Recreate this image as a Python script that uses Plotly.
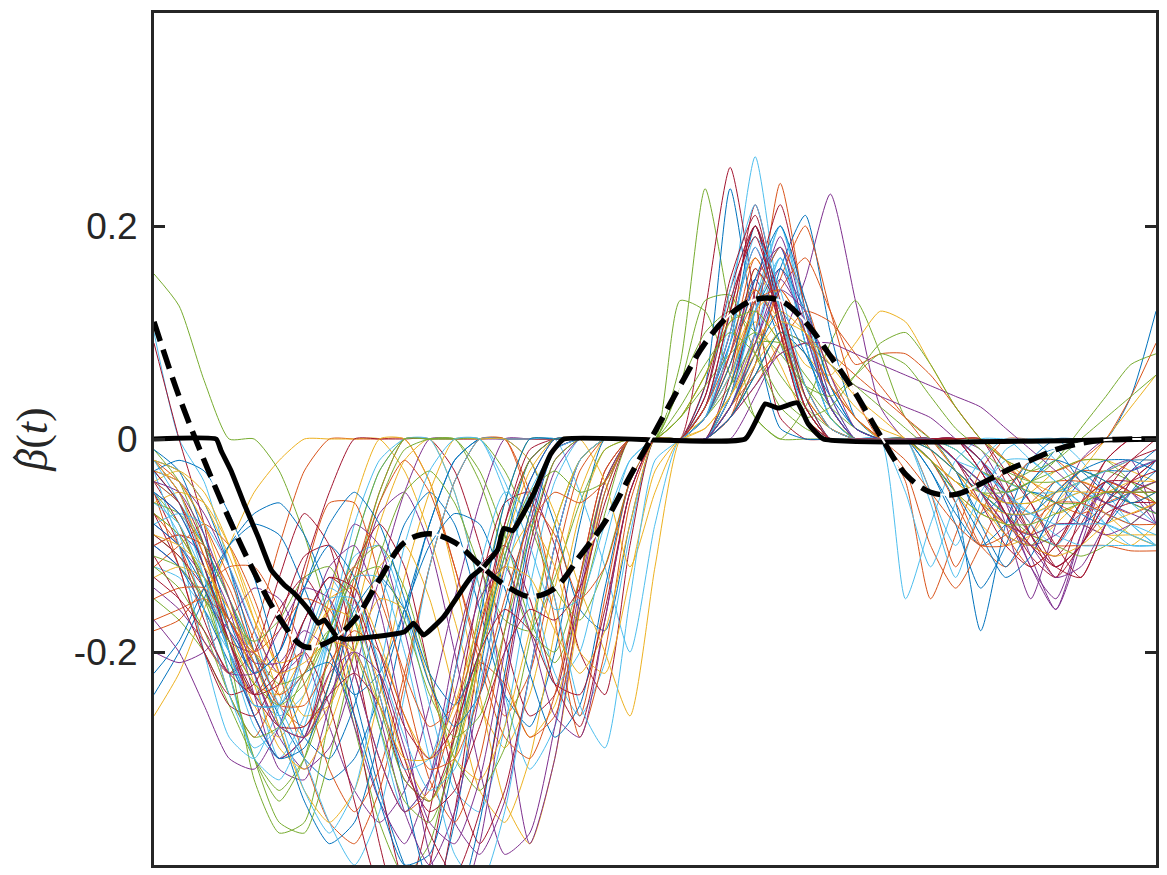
import plotly.graph_objects as go

# common sampling grid of the bootstrap estimates
t_grid = [0.0, 0.025, 0.05, 0.075, 0.1, 0.125, 0.15, 0.175, 0.2, 0.225,
          0.25, 0.275, 0.3, 0.325, 0.35, 0.375, 0.4, 0.425, 0.45, 0.475,
          0.5, 0.525, 0.55, 0.575, 0.6, 0.625, 0.65, 0.675, 0.7, 0.725,
          0.75, 0.775, 0.8, 0.825, 0.85, 0.875, 0.9, 0.925, 0.95, 0.975, 1.0]

# bootstrap estimates (thin coloured lines)
boot_curves_a = [
    [-0.03, -0.06, -0.10, -0.15, -0.21, -0.26, -0.30, -0.32, -0.30, -0.24, -0.16, -0.08, -0.02, 0, 0, 0, 0, 0, 0, 0, 0, 0, 0.03, 0.09, 0.15, 0.09, 0.03, 0, 0, 0, 0, 0, 0, -0.02, -0.05, -0.04, -0.01, 0, 0, 0, 0],
    [-0.05, -0.12, -0.19, -0.22, -0.18, -0.10, -0.03, 0, 0, 0, 0, -0.04, -0.12, -0.20, -0.26, -0.22, -0.12, -0.03, 0, 0, 0, 0, 0, 0.02, 0.10, 0.24, 0.12, 0.03, 0, 0, -0.04, -0.15, -0.09, -0.03, 0, 0, 0, 0, 0, 0, 0],
    [-0.26, -0.22, -0.16, -0.10, -0.05, -0.02, 0, 0, 0, 0, -0.03, -0.09, -0.17, -0.25, -0.29, -0.24, -0.14, -0.05, 0, 0, 0, 0, 0.02, 0.06, 0.11, 0.07, 0.02, 0, 0, 0, 0, 0, -0.02, -0.04, -0.06, -0.05, -0.03, -0.02, -0.02, -0.03, -0.04],
    [-0.08, -0.10, -0.13, -0.17, -0.22, -0.28, -0.31, -0.29, -0.22, -0.13, -0.05, 0, 0, 0, 0, 0, 0, 0, 0, 0, 0, 0, 0, 0, 0.04, 0.09, 0.15, 0.23, 0.13, 0.03, 0, 0, 0, -0.01, -0.05, -0.11, -0.16, -0.09, -0.03, -0.02, -0.08],
    [0.155, 0.125, 0.055, 0, 0, -0.03, -0.09, -0.17, -0.27, -0.36, -0.41, -0.38, -0.28, -0.16, -0.06, 0, 0, 0, 0, 0, 0, 0.07, 0.235, 0.12, 0.02, 0, 0, 0, 0, 0, 0, 0, -0.01, -0.03, -0.04, -0.03, -0.01, 0, 0, 0, 0],
    [0.10, 0, -0.04, -0.12, -0.22, -0.30, -0.28, -0.18, -0.08, -0.02, 0, 0, 0, 0, -0.05, -0.13, -0.22, -0.26, -0.21, -0.09, 0, 0, 0.02, 0.12, 0.265, 0.12, 0.02, 0, 0, 0, -0.15, -0.08, -0.02, 0, 0, 0, 0, -0.02, -0.05, -0.08, -0.10],
    [0.09, 0, -0.08, -0.20, -0.24, -0.20, -0.12, -0.05, 0, 0, 0, 0, -0.03, -0.10, -0.19, -0.26, -0.24, -0.13, -0.03, 0, 0, 0, 0.12, 0.255, 0.13, 0.02, 0, 0, 0, 0, 0, 0, 0, 0, -0.04, -0.09, -0.13, -0.07, -0.02, 0, 0],
    [-0.24, -0.20, -0.15, -0.10, -0.07, -0.06, -0.09, -0.15, -0.24, -0.33, -0.40, -0.44, -0.36, -0.22, -0.10, -0.02, 0, 0, 0, 0, 0, 0, 0.05, 0.235, 0.10, 0.01, 0, 0, 0, 0, 0, -0.02, -0.06, -0.18, -0.08, -0.02, 0, 0, 0, 0.04, 0.12],
    [-0.02, -0.04, -0.08, -0.13, -0.19, -0.25, -0.27, -0.22, -0.13, -0.05, 0, 0, 0, 0, 0, -0.05, -0.15, -0.26, -0.15, -0.04, 0, 0, 0, 0.03, 0.06, 0.08, 0.09, 0.08, 0.06, 0.04, 0.02, 0, -0.03, -0.06, -0.08, -0.09, -0.10, -0.10, -0.10, -0.105, -0.105],
    [-0.04, -0.03, -0.05, -0.10, -0.17, -0.24, -0.28, -0.25, -0.17, -0.08, -0.02, 0, -0.05, -0.14, -0.22, -0.28, -0.25, -0.15, -0.05, 0, 0, 0.02, 0.06, 0.12, 0.17, 0.12, 0.05, 0.01, 0, 0, 0, -0.02, -0.05, -0.08, -0.10, -0.09, -0.06, -0.04, -0.05, -0.06, -0.05],
    [-0.20, -0.21, -0.20, -0.17, -0.14, -0.15, -0.20, -0.27, -0.33, -0.36, -0.33, -0.25, -0.15, -0.06, 0, 0, 0, 0, 0, 0, 0, 0, 0, 0.05, 0.12, 0.19, 0.11, 0.03, 0, 0, 0, 0, 0, -0.02, -0.08, -0.15, -0.08, -0.02, 0, 0, 0],
    [-0.01, -0.04, -0.10, -0.20, -0.32, -0.37, -0.36, -0.26, -0.14, -0.05, 0, 0, 0, -0.03, -0.09, -0.17, -0.21, -0.16, -0.07, 0, 0, 0.13, 0.12, 0.06, 0.02, 0, 0.03, 0.09, 0.13, 0.08, 0.02, 0, -0.02, -0.04, -0.05, -0.04, -0.02, 0.01, 0.04, 0.07, 0.08],
    [-0.12, -0.13, -0.16, -0.20, -0.24, -0.26, -0.24, -0.18, -0.10, -0.03, 0, 0, -0.05, -0.14, -0.24, -0.31, -0.27, -0.16, -0.05, 0, 0, 0, 0, 0.03, 0.09, 0.17, 0.09, 0.02, 0, 0, 0, -0.06, -0.13, -0.06, -0.01, 0, -0.02, -0.05, -0.08, -0.10, -0.10],
    [-0.05, -0.10, -0.17, -0.22, -0.20, -0.13, -0.07, -0.10, -0.20, -0.32, -0.42, -0.45, -0.35, -0.20, -0.08, -0.01, 0, 0, 0, 0, 0, 0, 0.03, 0.10, 0.22, 0.12, 0.03, 0, 0, 0, 0, 0, 0, 0, -0.02, -0.06, -0.10, -0.06, -0.02, 0, 0],
]

boot_curves_b = [
    [-0.03, -0.02, -0.03, -0.07, -0.13, -0.21, -0.28, -0.30, -0.25, -0.16, -0.08, -0.05, -0.08, -0.16, -0.24, -0.27, -0.20, -0.08, 0, 0, 0, 0, 0, 0.02, 0.07, 0.16, 0.21, 0.10, 0.02, 0, 0, 0, -0.02, -0.05, -0.09, -0.10, -0.07, -0.04, -0.03, -0.03, -0.02],
    [-0.12, -0.10, -0.08, -0.10, -0.15, -0.22, -0.30, -0.36, -0.38, -0.33, -0.23, -0.12, -0.04, 0, 0, 0, 0, 0, 0, 0, 0, 0, 0, 0.02, 0.05, 0.09, 0.12, 0.11, 0.08, 0.05, 0.02, -0.01, -0.05, -0.10, -0.12, -0.09, -0.05, -0.03, -0.03, -0.02, -0.02],
    [-0.07, -0.09, -0.13, -0.19, -0.25, -0.28, -0.24, -0.15, -0.06, 0, 0, -0.04, -0.13, -0.24, -0.34, -0.38, -0.30, -0.16, -0.04, 0, 0, 0, 0, 0.05, 0.16, 0.11, 0.03, 0, 0, 0, 0, 0, 0, 0, -0.02, -0.05, -0.07, -0.06, -0.04, -0.05, -0.06],
    [-0.10, -0.09, -0.11, -0.16, -0.24, -0.31, -0.32, -0.25, -0.15, -0.07, -0.05, -0.10, -0.20, -0.31, -0.39, -0.37, -0.27, -0.14, -0.04, 0, 0, 0, 0, 0.04, 0.10, 0.16, 0.10, 0.03, 0, 0, 0, 0, 0, -0.03, -0.07, -0.12, -0.16, -0.10, -0.04, -0.05, -0.08],
    [-0.15, -0.17, -0.20, -0.25, -0.30, -0.33, -0.30, -0.23, -0.14, -0.06, -0.01, 0, 0, -0.04, -0.11, -0.18, -0.20, -0.13, -0.04, 0, 0, 0.05, 0.10, 0.12, 0.10, 0.06, 0.03, 0.01, 0, 0, 0, -0.02, -0.04, -0.05, -0.06, -0.06, -0.05, -0.04, -0.03, -0.04, -0.06],
    [-0.02, -0.05, -0.12, -0.20, -0.27, -0.30, -0.26, -0.18, -0.11, -0.10, -0.16, -0.25, -0.33, -0.35, -0.27, -0.14, -0.04, 0, 0, 0, 0, 0, 0, 0.04, 0.13, 0.20, 0.11, 0.03, 0, 0, 0, 0, 0, -0.02, -0.05, -0.07, -0.06, -0.05, -0.06, -0.08, -0.10],
    [-0.04, -0.08, -0.14, -0.19, -0.20, -0.16, -0.13, -0.17, -0.26, -0.38, -0.46, -0.40, -0.27, -0.14, -0.06, -0.05, -0.10, -0.20, -0.24, -0.10, 0, 0, 0.05, 0.14, 0.20, 0.10, 0.02, 0, 0, 0, 0, 0, -0.02, -0.05, -0.08, -0.10, -0.11, -0.08, -0.04, -0.02, 0],
    [-0.02, -0.03, -0.06, -0.12, -0.20, -0.27, -0.34, -0.38, -0.36, -0.28, -0.17, -0.08, -0.02, 0, 0, -0.02, -0.08, -0.16, -0.18, -0.08, 0, 0, 0, 0.05, 0.13, 0.18, 0.09, 0.02, 0, 0, 0, 0, -0.03, -0.08, -0.12, -0.08, -0.04, -0.07, -0.08, -0.05, -0.02],
    [-0.18, -0.17, -0.14, -0.12, -0.12, -0.16, -0.23, -0.31, -0.35, -0.31, -0.22, -0.12, -0.04, 0, 0, -0.06, -0.17, -0.28, -0.20, -0.06, 0, 0, 0, 0.02, 0.07, 0.15, 0.20, 0.12, 0.04, 0, 0, -0.05, -0.12, -0.07, -0.03, -0.04, -0.06, -0.07, -0.06, -0.05, -0.04],
    [-0.06, -0.05, -0.06, -0.10, -0.16, -0.22, -0.26, -0.25, -0.19, -0.12, -0.10, -0.15, -0.24, -0.33, -0.36, -0.30, -0.18, -0.07, -0.01, 0, 0, 0.02, 0.06, 0.11, 0.14, 0.11, 0.07, 0.06, 0.09, 0.12, 0.11, 0.07, 0.03, 0, -0.02, -0.04, -0.05, -0.03, 0, 0.03, 0.06],
    [-0.10, -0.12, -0.15, -0.18, -0.21, -0.21, -0.18, -0.20, -0.27, -0.34, -0.38, -0.32, -0.20, -0.12, -0.25, -0.38, -0.30, -0.15, -0.04, 0, 0, 0, 0, 0.02, 0.06, 0.10, 0.09, 0.07, 0.05, 0.04, 0.03, 0.02, 0, -0.02, -0.06, -0.12, -0.15, -0.09, -0.04, -0.05, -0.07],
    [-0.09, -0.11, -0.15, -0.22, -0.30, -0.36, -0.37, -0.30, -0.20, -0.11, -0.05, -0.03, -0.06, -0.12, -0.17, -0.18, -0.13, -0.06, -0.01, 0, 0, 0.05, 0.13, 0.135, 0.08, 0.03, 0.01, 0, 0, 0, 0, -0.01, -0.03, -0.05, -0.05, -0.04, -0.03, -0.02, -0.02, -0.04, -0.06],
    [-0.04, -0.06, -0.10, -0.15, -0.20, -0.25, -0.30, -0.36, -0.40, -0.35, -0.24, -0.12, -0.04, 0, 0, 0, 0, -0.05, -0.12, -0.20, -0.08, 0, 0, 0.03, 0.10, 0.17, 0.09, 0.02, 0, 0, 0, -0.05, -0.10, -0.05, -0.02, -0.02, -0.04, -0.06, -0.08, -0.09, -0.10],
    [-0.02, -0.05, -0.10, -0.18, -0.26, -0.30, -0.28, -0.20, -0.12, -0.08, -0.12, -0.22, -0.32, -0.38, -0.33, -0.22, -0.10, -0.02, 0, 0, 0, 0, 0, 0.04, 0.14, 0.22, 0.12, 0.03, 0, 0, 0, 0, 0, -0.02, -0.05, -0.08, -0.12, -0.13, -0.08, -0.04, -0.02],
]

boot_curves_c = [
    [-0.22, -0.19, -0.14, -0.10, -0.08, -0.09, -0.14, -0.20, -0.24, -0.22, -0.16, -0.10, -0.07, -0.08, -0.14, -0.22, -0.28, -0.25, -0.14, -0.04, 0, 0, 0.02, 0.09, 0.20, 0.12, 0.04, 0, 0, 0, 0, 0, -0.03, -0.07, -0.05, -0.02, -0.01, -0.04, -0.06, -0.05, -0.03],
    [-0.07, -0.10, -0.16, -0.24, -0.28, -0.23, -0.13, -0.06, -0.06, -0.13, -0.23, -0.32, -0.36, -0.30, -0.18, -0.07, -0.01, 0, 0, 0, 0, 0, 0.02, 0.06, 0.13, 0.18, 0.13, 0.06, 0.02, 0, -0.03, -0.10, -0.14, -0.10, -0.05, -0.02, -0.02, -0.04, -0.06, -0.07, -0.06],
    [-0.13, -0.12, -0.13, -0.16, -0.21, -0.27, -0.33, -0.36, -0.33, -0.24, -0.13, -0.05, 0, 0, 0, -0.02, -0.07, -0.14, -0.20, -0.26, -0.12, 0, 0.02, 0.07, 0.12, 0.09, 0.04, 0.01, 0, 0, 0, 0, -0.03, -0.06, -0.09, -0.10, -0.08, -0.06, -0.09, -0.10, -0.08],
    [-0.03, -0.04, -0.07, -0.12, -0.18, -0.22, -0.20, -0.14, -0.08, -0.10, -0.18, -0.28, -0.36, -0.39, -0.34, -0.22, -0.10, -0.02, 0, 0, 0, 0, 0.03, 0.10, 0.18, 0.11, 0.03, 0, 0, 0, 0, -0.02, -0.04, -0.06, -0.08, -0.10, -0.09, -0.07, -0.05, -0.05, -0.05],
    [-0.05, -0.08, -0.14, -0.22, -0.30, -0.34, -0.30, -0.20, -0.10, -0.03, 0, 0, 0, 0, -0.03, -0.08, -0.14, -0.17, -0.12, -0.04, 0, 0, 0, 0.02, 0.06, 0.10, 0.09, 0.07, 0.05, 0.03, 0.01, -0.01, -0.03, -0.05, -0.07, -0.09, -0.10, -0.11, -0.10, -0.08, -0.06],
    [-0.03, -0.10, -0.20, -0.28, -0.30, -0.25, -0.17, -0.13, -0.17, -0.27, -0.35, -0.32, -0.22, -0.12, -0.10, -0.16, -0.23, -0.20, -0.10, -0.02, 0, 0, 0.04, 0.14, 0.22, 0.12, 0.03, 0, 0, 0, 0, 0, 0, -0.02, -0.04, -0.05, -0.05, -0.04, -0.03, -0.02, -0.02],
    [-0.07, -0.12, -0.20, -0.25, -0.26, -0.22, -0.20, -0.25, -0.34, -0.42, -0.43, -0.35, -0.22, -0.12, -0.10, -0.15, -0.23, -0.27, -0.17, -0.05, 0, 0, 0.03, 0.12, 0.20, 0.10, 0.02, 0, 0, 0, 0, 0, 0, -0.03, -0.07, -0.11, -0.13, -0.10, -0.07, -0.06, -0.06],
    [-0.10, -0.12, -0.16, -0.21, -0.25, -0.25, -0.22, -0.21, -0.26, -0.34, -0.40, -0.39, -0.30, -0.17, -0.06, 0, 0, 0, 0, 0, 0, 0, 0, 0.04, 0.12, 0.16, 0.12, 0.05, 0.01, 0, 0, -0.03, -0.07, -0.10, -0.08, -0.05, -0.06, -0.08, -0.06, -0.03, -0.01],
    [-0.17, -0.16, -0.15, -0.17, -0.22, -0.27, -0.28, -0.23, -0.14, -0.06, -0.02, -0.05, -0.12, -0.21, -0.28, -0.30, -0.24, -0.13, -0.03, 0, 0, 0, 0, 0.03, 0.08, 0.14, 0.17, 0.12, 0.07, 0.08, 0.08, 0.06, 0.03, 0, -0.02, -0.03, -0.03, -0.02, 0, 0.04, 0.09],
    [-0.02, -0.05, -0.11, -0.18, -0.23, -0.24, -0.20, -0.15, -0.14, -0.19, -0.26, -0.30, -0.28, -0.20, -0.10, -0.03, 0, 0, -0.04, -0.12, -0.05, 0, 0, 0.03, 0.07, 0.10, 0.08, 0.05, 0.02, 0, 0, -0.02, -0.05, -0.07, -0.08, -0.09, -0.08, -0.08, -0.09, -0.09, -0.09],
    [-0.17, -0.20, -0.25, -0.30, -0.31, -0.27, -0.19, -0.12, -0.10, -0.16, -0.27, -0.39, -0.45, -0.38, -0.24, -0.11, -0.03, 0, 0, 0, 0, 0, 0, 0.02, 0.05, 0.08, 0.09, 0.09, 0.08, 0.07, 0.06, 0.05, 0.04, 0.03, 0.01, -0.01, -0.03, -0.05, -0.06, -0.07, -0.08],
    [-0.06, -0.07, -0.10, -0.15, -0.20, -0.23, -0.22, -0.18, -0.12, -0.10, -0.14, -0.22, -0.30, -0.33, -0.29, -0.19, -0.08, -0.02, 0, 0, 0, 0, 0.02, 0.05, 0.09, 0.09, 0.06, 0.03, 0.01, 0, 0, 0, -0.01, -0.03, -0.04, -0.05, -0.06, -0.06, -0.05, -0.05, -0.04],
    [-0.08, -0.07, -0.08, -0.12, -0.18, -0.26, -0.33, -0.37, -0.33, -0.22, -0.10, -0.03, 0, 0, -0.04, -0.10, -0.16, -0.15, -0.08, -0.02, 0, 0, 0, 0.04, 0.12, 0.20, 0.12, 0.04, 0, 0, 0, 0, -0.02, -0.04, -0.06, -0.07, -0.09, -0.10, -0.10, -0.10, -0.10],
    [-0.11, -0.15, -0.20, -0.24, -0.23, -0.17, -0.11, -0.10, -0.15, -0.24, -0.32, -0.34, -0.28, -0.18, -0.08, -0.02, 0, 0, 0, 0, 0, 0, 0, 0.06, 0.16, 0.12, 0.05, 0.01, 0, 0, 0, 0, 0, 0, -0.03, -0.06, -0.10, -0.13, -0.08, -0.04, -0.02],
    [-0.01, -0.03, -0.09, -0.17, -0.22, -0.20, -0.14, -0.10, -0.13, -0.22, -0.33, -0.42, -0.44, -0.36, -0.22, -0.09, -0.01, 0, 0, 0, 0, 0, 0, 0.02, 0.06, 0.10, 0.08, 0.04, 0.01, 0, 0, -0.03, -0.08, -0.14, -0.10, -0.04, -0.02, -0.03, -0.05, -0.06, -0.07],
    [-0.04, -0.06, -0.11, -0.17, -0.20, -0.18, -0.15, -0.16, -0.22, -0.30, -0.35, -0.33, -0.26, -0.21, -0.23, -0.28, -0.26, -0.16, -0.05, 0, 0, 0, 0.02, 0.08, 0.17, 0.12, 0.04, 0.01, 0, 0, 0, -0.02, -0.06, -0.10, -0.09, -0.06, -0.04, -0.04, -0.05, -0.05, -0.05],
    [-0.03, -0.04, -0.08, -0.15, -0.23, -0.29, -0.31, -0.27, -0.20, -0.15, -0.16, -0.23, -0.30, -0.32, -0.27, -0.18, -0.08, -0.02, 0, 0, 0, 0, 0.02, 0.06, 0.12, 0.14, 0.10, 0.05, 0.02, 0, 0, -0.01, -0.03, -0.05, -0.06, -0.06, -0.05, -0.05, -0.07, -0.09, -0.10],
    [-0.05, -0.07, -0.12, -0.19, -0.26, -0.30, -0.28, -0.22, -0.20, -0.26, -0.35, -0.40, -0.35, -0.24, -0.12, -0.04, 0, 0, 0, 0, 0, 0, 0, 0.03, 0.09, 0.15, 0.11, 0.04, 0, 0, 0, 0, -0.02, -0.04, -0.06, -0.09, -0.12, -0.10, -0.06, -0.03, -0.02],
    [-0.12, -0.14, -0.18, -0.24, -0.28, -0.27, -0.22, -0.18, -0.20, -0.27, -0.34, -0.36, -0.30, -0.20, -0.09, -0.02, 0, 0, 0, 0, 0, 0.02, 0.05, 0.08, 0.10, 0.08, 0.05, 0.04, 0.06, 0.08, 0.07, 0.04, 0.01, -0.01, -0.03, -0.04, -0.04, -0.03, -0.04, -0.06, -0.07],
    [-0.02, -0.06, -0.13, -0.22, -0.30, -0.32, -0.27, -0.19, -0.13, -0.13, -0.20, -0.30, -0.39, -0.42, -0.35, -0.22, -0.10, -0.02, 0, 0, 0, 0, 0.02, 0.06, 0.12, 0.17, 0.10, 0.03, 0, 0, 0, 0, -0.02, -0.03, -0.05, -0.08, -0.10, -0.07, -0.04, -0.06, -0.08],
    [-0.09, -0.11, -0.14, -0.19, -0.24, -0.27, -0.27, -0.24, -0.22, -0.25, -0.31, -0.35, -0.33, -0.27, -0.20, -0.16, -0.17, -0.14, -0.06, 0, 0, 0, 0.04, 0.15, 0.21, 0.11, 0.03, 0, 0, 0, 0, 0, 0, -0.02, -0.05, -0.09, -0.12, -0.10, -0.05, -0.02, -0.01],
]

boot_curves_d = [
    [-0.05, -0.07, -0.12, -0.18, -0.22, -0.20, -0.14, -0.08, -0.05, -0.08, -0.15, -0.22, -0.25, -0.20, -0.11, -0.04, 0, 0, 0, 0, 0, 0, 0, 0.03, 0.08, 0.12, 0.08, 0.03, 0, 0, 0, -0.01, -0.03, -0.05, -0.07, -0.07, -0.05, -0.03, -0.02, -0.02, -0.03],
    [-0.10, -0.09, -0.10, -0.14, -0.20, -0.24, -0.22, -0.16, -0.12, -0.15, -0.22, -0.27, -0.25, -0.18, -0.10, -0.06, -0.09, -0.15, -0.12, -0.04, 0, 0, 0.02, 0.07, 0.14, 0.10, 0.03, 0, 0, 0, 0, 0, -0.02, -0.05, -0.09, -0.12, -0.10, -0.06, -0.04, -0.05, -0.06],
    [-0.02, -0.03, -0.06, -0.11, -0.17, -0.21, -0.20, -0.16, -0.17, -0.23, -0.30, -0.34, -0.30, -0.21, -0.12, -0.08, -0.12, -0.20, -0.22, -0.13, -0.03, 0, 0.01, 0.04, 0.09, 0.12, 0.10, 0.06, 0.03, 0.01, 0, -0.02, -0.04, -0.06, -0.07, -0.07, -0.06, -0.05, -0.05, -0.04, -0.04],
    [-0.14, -0.16, -0.19, -0.22, -0.22, -0.18, -0.14, -0.15, -0.22, -0.30, -0.35, -0.32, -0.24, -0.15, -0.12, -0.18, -0.26, -0.28, -0.17, -0.05, 0, 0, 0.02, 0.08, 0.15, 0.18, 0.10, 0.03, 0, 0, 0, 0, -0.02, -0.05, -0.08, -0.09, -0.08, -0.08, -0.09, -0.08, -0.06],
    [-0.07, -0.09, -0.13, -0.17, -0.19, -0.17, -0.13, -0.12, -0.17, -0.25, -0.32, -0.34, -0.29, -0.20, -0.11, -0.05, -0.03, -0.05, -0.04, 0, 0, 0.03, 0.07, 0.10, 0.08, 0.04, 0.02, 0.03, 0.06, 0.09, 0.10, 0.07, 0.03, 0, -0.02, -0.03, -0.02, 0, 0.02, 0.04, 0.06],
    [-0.05, -0.09, -0.16, -0.24, -0.29, -0.27, -0.20, -0.14, -0.16, -0.24, -0.31, -0.30, -0.22, -0.12, -0.05, -0.07, -0.15, -0.25, -0.29, -0.15, -0.02, 0, 0.03, 0.10, 0.18, 0.12, 0.04, 0, 0, 0, -0.05, -0.12, -0.06, -0.02, 0, -0.02, -0.04, -0.06, -0.07, -0.08, -0.09],
    [-0.03, -0.06, -0.12, -0.19, -0.24, -0.23, -0.17, -0.13, -0.15, -0.22, -0.30, -0.37, -0.41, -0.35, -0.23, -0.10, -0.02, 0, 0, 0, 0, 0, 0.03, 0.12, 0.20, 0.13, 0.04, 0, 0, 0, 0, 0, -0.02, -0.06, -0.10, -0.12, -0.10, -0.06, -0.04, -0.04, -0.05],
    [-0.08, -0.10, -0.14, -0.20, -0.26, -0.30, -0.29, -0.23, -0.16, -0.13, -0.16, -0.23, -0.27, -0.24, -0.16, -0.07, -0.01, 0, 0, 0, 0, 0, 0.02, 0.07, 0.15, 0.20, 0.13, 0.05, 0.01, 0, 0, -0.02, -0.05, -0.09, -0.13, -0.11, -0.06, -0.03, -0.04, -0.06, -0.05],
    [-0.15, -0.14, -0.14, -0.17, -0.21, -0.25, -0.25, -0.21, -0.18, -0.20, -0.26, -0.31, -0.30, -0.24, -0.15, -0.08, -0.05, -0.06, -0.04, 0, 0, 0, 0.03, 0.08, 0.13, 0.14, 0.10, 0.05, 0.02, 0, -0.02, -0.05, -0.08, -0.10, -0.10, -0.08, -0.06, -0.06, -0.07, -0.08, -0.08],
    [-0.09, -0.10, -0.12, -0.16, -0.20, -0.22, -0.21, -0.19, -0.20, -0.25, -0.30, -0.30, -0.25, -0.17, -0.12, -0.13, -0.18, -0.22, -0.18, -0.08, 0, 0, 0.01, 0.04, 0.08, 0.11, 0.10, 0.07, 0.04, 0.02, 0, -0.02, -0.04, -0.06, -0.08, -0.10, -0.11, -0.10, -0.08, -0.07, -0.06],
    [-0.04, -0.05, -0.09, -0.15, -0.22, -0.27, -0.28, -0.24, -0.20, -0.22, -0.29, -0.36, -0.38, -0.32, -0.20, -0.08, -0.01, 0, 0, 0, 0, 0, 0, 0.03, 0.09, 0.14, 0.12, 0.06, 0.01, 0, 0, 0, -0.02, -0.04, -0.07, -0.10, -0.13, -0.12, -0.08, -0.05, -0.04],
    [-0.11, -0.12, -0.15, -0.19, -0.23, -0.25, -0.23, -0.18, -0.13, -0.12, -0.17, -0.24, -0.28, -0.26, -0.18, -0.09, -0.02, 0, 0, 0, 0, 0.02, 0.06, 0.11, 0.12, 0.09, 0.05, 0.02, 0, 0, 0, -0.02, -0.05, -0.07, -0.08, -0.08, -0.07, -0.06, -0.05, -0.05, -0.05],
    [-0.06, -0.08, -0.13, -0.20, -0.25, -0.25, -0.20, -0.15, -0.15, -0.21, -0.28, -0.33, -0.31, -0.23, -0.13, -0.05, -0.01, 0, 0, 0, 0, 0, 0.02, 0.09, 0.19, 0.14, 0.05, 0.01, 0, 0, 0, 0, -0.01, -0.03, -0.05, -0.07, -0.08, -0.08, -0.08, -0.09, -0.10],
    [-0.13, -0.15, -0.18, -0.22, -0.24, -0.22, -0.17, -0.13, -0.14, -0.20, -0.27, -0.30, -0.27, -0.20, -0.16, -0.18, -0.23, -0.24, -0.16, -0.05, 0, 0, 0.04, 0.13, 0.19, 0.11, 0.03, 0, 0, 0, 0, 0, 0, -0.03, -0.07, -0.10, -0.12, -0.10, -0.06, -0.04, -0.03],
]

# true coefficient function (thick dash-dot)
true_t = t_grid
true_beta = [0.11, 0.04, -0.02, -0.075, -0.125, -0.168, -0.195, -0.19, -0.17, -0.132,
             -0.097, -0.089, -0.097, -0.118, -0.137, -0.148, -0.14, -0.11, -0.078, -0.035,
             0.007, 0.05, 0.09, 0.117, 0.131, 0.13, 0.11, 0.078, 0.043, 0.003,
             -0.033, -0.05, -0.052, -0.042, -0.03, -0.02, -0.01, -0.004, -0.001, 0, 0]

# point estimate (thick solid)
est_t = [0.0, 0.062, 0.067, 0.077, 0.090, 0.104, 0.117, 0.130, 0.140, 0.154, 0.164, 0.170,
         0.182, 0.190, 0.217, 0.250, 0.259, 0.269, 0.289, 0.316, 0.329, 0.343, 0.349,
         0.358, 0.379, 0.396, 0.409, 0.590, 0.610, 0.623, 0.642, 0.653, 0.668, 1.0]
est_beta = [0, 0, -0.011, -0.03, -0.061, -0.092, -0.123, -0.137, -0.145, -0.16, -0.173, -0.17,
            -0.185, -0.188, -0.186, -0.181, -0.173, -0.184, -0.167, -0.13, -0.12, -0.104, -0.084,
            -0.086, -0.051, -0.014, 0, 0, 0.033, 0.029, 0.034, 0.014, 0, 0]

y_ticks = [-0.2, 0, 0.2]
y_tick_text = ["-0.2", "0", "0.2"]

matlab_colors = ["#0072BD", "#D95319", "#EDB120", "#7E2F8E",
                 "#77AC30", "#4DBEEE", "#A2142F"]

fig = go.Figure()

all_curves = boot_curves_a + boot_curves_b + boot_curves_c + boot_curves_d
for k, curve in enumerate(all_curves):
    fig.add_trace(go.Scatter(
        x=t_grid, y=curve, mode="lines",
        line=dict(color=matlab_colors[k % 7], width=1, shape="spline", smoothing=0.6),
        hoverinfo="skip",
    ))

fig.add_trace(go.Scatter(
    x=est_t, y=est_beta, mode="lines",
    line=dict(color="black", width=5, shape="spline", smoothing=0.4),
))
# white core under the dashes, then the black dashes
fig.add_trace(go.Scatter(
    x=true_t, y=true_beta, mode="lines",
    line=dict(color="white", width=2, shape="spline", smoothing=1),
))
fig.add_trace(go.Scatter(
    x=true_t, y=true_beta, mode="lines",
    line=dict(color="black", width=5.5, dash="20px,9px", shape="spline", smoothing=1),
))

axis_color = "#262626"
# the page adds ~8px of body margin, so the margins are shifted to compensate
fig.update_layout(
    width=1167, height=875,
    margin=dict(l=146, r=19, t=2, b=18),
    paper_bgcolor="white", plot_bgcolor="white",
    showlegend=False,
    font=dict(family="Liberation Sans, Arial, sans-serif", color=axis_color),
)
fig.update_xaxes(
    range=[0, 1], showgrid=False, zeroline=False,
    showticklabels=False, ticks="",
    showline=True, linecolor=axis_color, linewidth=3, mirror=True,
)
fig.update_yaxes(
    range=[-0.4, 0.4], showgrid=False, zeroline=False,
    tickvals=y_ticks, ticktext=y_tick_text,
    ticks="inside", ticklen=11, tickwidth=3, tickcolor=axis_color,
    tickfont=dict(size=37, color=axis_color), ticklabelstandoff=6,
    showline=True, linecolor=axis_color, linewidth=3, mirror="ticks",
    title=dict(text="<i>\u03b2</i>(<i>t</i>)", standoff=18,
               font=dict(size=44, family="Liberation Serif, serif", color=axis_color)),
)
# the hat over beta in the rotated label, drawn as a small "<" in paper units
fig.add_shape(
    type="path", xref="paper", yref="paper",
    path="M -0.1337 0.4848 L -0.1397 0.4784 L -0.1337 0.4720",
    line=dict(color=axis_color, width=2),
)

fig.write_html("out.html")
